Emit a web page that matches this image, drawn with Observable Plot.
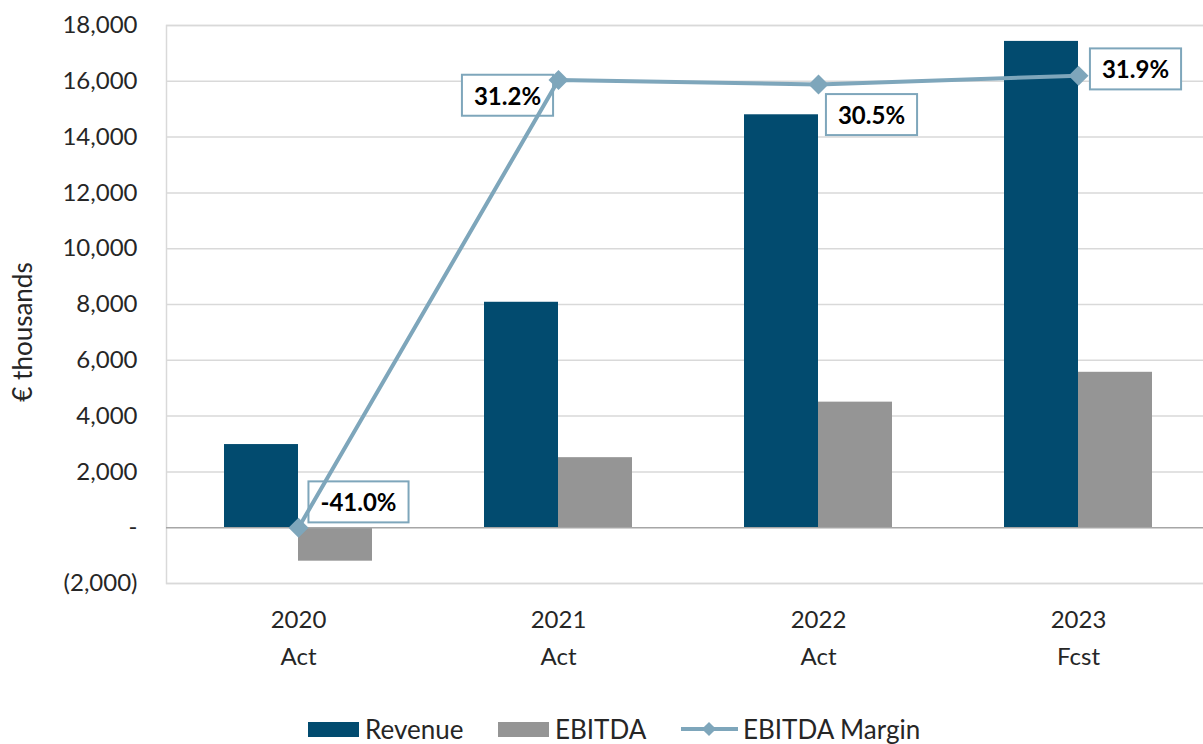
<!DOCTYPE html>
<html>
<head>
<meta charset="utf-8">
<script src="https://cdn.jsdelivr.net/npm/d3@7"></script>
<script src="https://cdn.jsdelivr.net/npm/@observablehq/plot@0.6"></script>
<style>
  html, body { margin: 0; padding: 0; background: #fff; overflow: hidden; }
  body { width: 1203px; height: 744px; position: relative; font-family: Lato, "Open Sans", sans-serif; }
  .item { position: absolute; top: 713px; height: 32px; display: flex; align-items: center; font-size: 26px; color: #262626; white-space: nowrap; }
  .sw { width: 51px; height: 15px; margin-right: 6px; }
  .ln { position: relative; width: 57px; height: 16px; margin-right: 5px; }
  .ln::before { content: ""; position: absolute; left: 0; right: 0; top: 6px; height: 4px; background: #7ea6bb; }
  .ln::after { content: ""; position: absolute; left: 23px; top: 3px; width: 10px; height: 10px; background: #7ea6bb; transform: rotate(45deg); }
</style>
</head>
<body>
<div id="chart"></div>
<div class="item" style="left:308px"><div class="sw" style="background:#024b6f"></div>Revenue</div>
<div class="item" style="left:498px"><div class="sw" style="background:#959595"></div>EBITDA</div>
<div class="item" style="left:681px"><div class="ln"></div>EBITDA Margin</div>
<script>
// ---- data ----
const years   = ["2020", "2021", "2022", "2023"];
const periods = ["Act", "Act", "Act", "Fcst"];
const revenue = [2980, 8080, 14800, 17430];
const ebitda  = [-1200, 2510, 4500, 5570];
const margin  = [-0.410, 0.312, 0.305, 0.319];
const yTicks  = [-2000, 0, 2000, 4000, 6000, 8000, 10000, 12000, 14000, 16000, 18000];
// hidden secondary axis bounds for the margin line
const marginAxis = [-0.5, 0.4];
// label placement offsets (px) relative to each margin point
const labelDx = [60, -51, 53, 57];
const labelDy = [-24, 17, 32, -5];

const yDomain = [yTicks[0], yTicks[yTicks.length - 1]];
const toPrimary = m => yDomain[0] + (m - marginAxis[0]) / (marginAxis[1] - marginAxis[0]) * (yDomain[1] - yDomain[0]);

const rows = years.map((y, i) => ({
  year: y, revenue: revenue[i], ebitda: ebitda[i], margin: margin[i], m2: toPrimary(margin[i])
}));

const fmtY = v => v === 0 ? "-" : v < 0 ? "(" + d3.format(",")(-v) + ")" : d3.format(",")(v);
const fmtPct = m => (m * 100).toFixed(1) + "%";

const labelMarks = rows.map((r, i) => Plot.text([r], {
  x: "year", y: "m2", text: d => fmtPct(d.margin),
  dx: labelDx[i], dy: labelDy[i],
  fontWeight: "bold", fontSize: 24, fill: "#000"
}));

const chart = Plot.plot({
  width: 1203,
  height: 700,
  marginLeft: 166,
  marginRight: -6,
  marginTop: 25,
  marginBottom: 117,
  style: { fontFamily: "Lato, 'Open Sans', sans-serif", fontSize: "24px", color: "#262626", background: "white", overflow: "hidden" },
  x: { domain: years, paddingInner: 0.432, paddingOuter: 0.216, label: null },
  y: { domain: yDomain, label: null },
  marks: [
    Plot.ruleY(yTicks.filter(t => t !== 0), { stroke: "#d9d9d9", strokeWidth: 1.5 }),
    Plot.frame({ stroke: "#d9d9d9", strokeWidth: 1.5 }),
    Plot.barY(rows, { x: "year", y: "revenue", fill: "#024b6f", insetRight: 74 }),
    Plot.barY(rows, { x: "year", y: "ebitda", fill: "#959595", insetLeft: 74 }),
    Plot.ruleY([0], { stroke: "#a6a6a6", strokeWidth: 1.5 }),
    ...labelMarks,
    Plot.line(rows, { x: "year", y: "m2", stroke: "#7ea6bb", strokeWidth: 4 }),
    Plot.dot(rows, { x: "year", y: "m2", symbol: "diamond2", r: 9, fill: "#7ea6bb", stroke: "none" }),
    Plot.axisY({ ticks: yTicks, tickFormat: fmtY, tickSize: 0, tickPadding: 29, label: null }),
    Plot.axisX({ tickSize: 0, tickPadding: 18, lineHeight: 1.55, label: null,
                 tickFormat: d => d + "\n" + periods[years.indexOf(d)] })
  ]
});

document.getElementById("chart").appendChild(chart);

// boxes behind margin labels (the only plain text marks in the chart)
d3.select(chart).selectAll('g[aria-label="text"] text').each(function () {
  const b = this.getBBox();
  const padX = 12, padY = 6;
  const rect = document.createElementNS("http://www.w3.org/2000/svg", "rect");
  rect.setAttribute("x", b.x - padX);
  rect.setAttribute("y", b.y - padY);
  rect.setAttribute("width", b.width + 2 * padX);
  rect.setAttribute("height", b.height + 2 * padY);
  rect.setAttribute("fill", "white");
  rect.setAttribute("stroke", "#7ea6bb");
  rect.setAttribute("stroke-width", 2);
  const t = this.getAttribute("transform");
  if (t) rect.setAttribute("transform", t);
  this.parentNode.insertBefore(rect, this);
});

// y axis title
d3.select(chart).append("text")
  .attr("transform", "translate(25,332) rotate(-90)")
  .attr("text-anchor", "middle")
  .attr("dominant-baseline", "middle")
  .attr("fill", "#262626")
  .style("font-size", "26px")
  .text("€ thousands");
</script>
</body>
</html>
